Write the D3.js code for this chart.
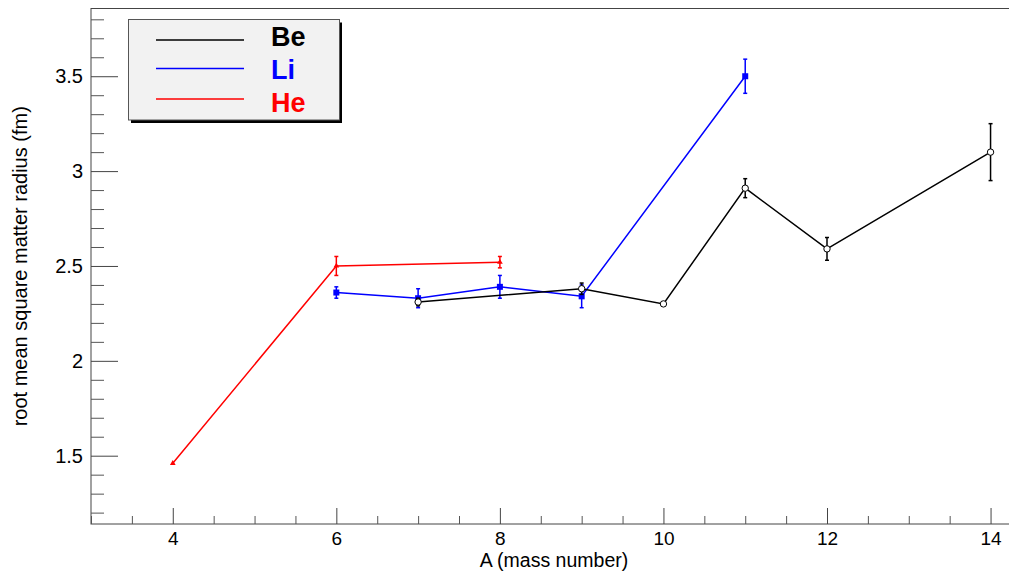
<!DOCTYPE html>
<html>
<head>
<meta charset="utf-8">
<script src="https://cdn.jsdelivr.net/npm/d3@7"></script>
<style>
  body { margin: 0; background: #fff; }
  svg { display: block; font-family: "Liberation Sans", Arial, Helvetica, sans-serif; }
</style>
</head>
<body>
<div id="chart"></div>
<script>
// data
const heA = [4, 6, 8];
const heR = [1.46, 2.50, 2.52];
const heErr = [0, 0.05, 0.03];

const liA = [6, 7, 8, 9, 11];
const liR = [2.36, 2.33, 2.39, 2.34, 3.50];
const liErr = [0.03, 0.05, 0.06, 0.06, 0.09];

const beA = [7, 9, 10, 11, 12, 14];
const beR = [2.31, 2.38, 2.30, 2.91, 2.59, 3.10];
const beErr = [0.02, 0.03, 0.01, 0.05, 0.06, 0.15];

const xMajor = [4, 6, 8, 10, 12, 14];
const yMajor = [1.5, 2, 2.5, 3, 3.5];

const width = 1009, height = 571;
const frame = { left: 91, right: 1011, top: 8.5, bottom: 524 };

const svg = d3.select("#chart").append("svg")
  .attr("width", width)
  .attr("height", height);

const x = d3.scaleLinear().domain([3, 14.25]).range([frame.left, frame.right]);
const y = d3.scaleLinear().domain([1.14, 3.857]).range([frame.bottom, frame.top]);

// frame
svg.append("rect")
  .attr("x", frame.left).attr("y", frame.top)
  .attr("width", frame.right - frame.left).attr("height", frame.bottom - frame.top)
  .attr("fill", "none").attr("stroke", "#444").attr("stroke-width", 1);

// minor ticks (inward, ROOT style)
const xMinor = d3.range(3, 14.01, 0.5).filter(v => xMajor.indexOf(v) < 0);
const yMinor = d3.range(1.2, 3.85, 0.1).map(v => +v.toFixed(1)).filter(v => yMajor.indexOf(v) < 0);

svg.append("g")
  .attr("transform", `translate(0,${frame.bottom})`)
  .call(d3.axisBottom(x).tickValues(xMinor).tickSize(-8).tickFormat(""))
  .call(g => g.select(".domain").remove())
  .selectAll("line").attr("stroke", "#555");

svg.append("g")
  .attr("transform", `translate(${frame.left},0)`)
  .call(d3.axisLeft(y).tickValues(yMinor).tickSize(-13).tickFormat(""))
  .call(g => g.select(".domain").remove())
  .selectAll("line").attr("stroke", "#555");

// major ticks + labels
const xAxis = svg.append("g")
  .attr("transform", `translate(0,${frame.bottom})`)
  .call(d3.axisBottom(x).tickValues(xMajor).tickSize(-16).tickPadding(8).tickFormat(d3.format("d")));
xAxis.select(".domain").remove();
xAxis.selectAll("line").attr("stroke", "#444");
xAxis.selectAll("text").attr("font-size", 19).attr("fill", "#000")
  .attr("font-family", "Liberation Sans, Arial, sans-serif");

const yAxis = svg.append("g")
  .attr("transform", `translate(${frame.left},0)`)
  .call(d3.axisLeft(y).tickValues(yMajor).tickSize(-27).tickPadding(8).tickFormat(d => String(d)));
yAxis.select(".domain").remove();
yAxis.selectAll("line").attr("stroke", "#444");
yAxis.selectAll("text").attr("font-size", 20).attr("fill", "#000")
  .attr("font-family", "Liberation Sans, Arial, sans-serif");

// axis titles
svg.append("text")
  .attr("x", 554).attr("y", 567)
  .attr("text-anchor", "middle")
  .attr("font-size", 19.5)
  .text("A (mass number)");

svg.append("text")
  .attr("transform", `translate(27,${(frame.top + frame.bottom) / 2}) rotate(-90)`)
  .attr("text-anchor", "middle")
  .attr("font-size", 20)
  .text("root mean square matter radius (fm)");

// series
const series = [
  { name: "Li", color: "#0000ff", A: liA, R: liR, err: liErr, marker: "square" },
  { name: "Be", color: "#000000", A: beA, R: beR, err: beErr, marker: "circle" },
  { name: "He", color: "#ff0000", A: heA, R: heR, err: heErr, marker: "triangle" }
];

const line = d3.line().x(d => x(d.a)).y(d => y(d.r));

series.forEach(s => {
  const pts = s.A.map((a, i) => ({ a: a, r: s.R[i], e: s.err[i] }));
  const g = svg.append("g");

  g.append("path")
    .datum(pts)
    .attr("d", line)
    .attr("fill", "none")
    .attr("stroke", s.color)
    .attr("stroke-width", 1.5);

  // error bars
  const eb = g.selectAll(".err").data(pts.filter(d => d.e > 0)).enter().append("g");
  eb.append("line")
    .attr("x1", d => x(d.a)).attr("x2", d => x(d.a))
    .attr("y1", d => y(d.r - d.e)).attr("y2", d => y(d.r + d.e))
    .attr("stroke", s.color).attr("stroke-width", 1.5);
  eb.append("line")
    .attr("x1", d => x(d.a) - 2).attr("x2", d => x(d.a) + 2)
    .attr("y1", d => y(d.r - d.e)).attr("y2", d => y(d.r - d.e))
    .attr("stroke", s.color).attr("stroke-width", 1.5);
  eb.append("line")
    .attr("x1", d => x(d.a) - 2).attr("x2", d => x(d.a) + 2)
    .attr("y1", d => y(d.r + d.e)).attr("y2", d => y(d.r + d.e))
    .attr("stroke", s.color).attr("stroke-width", 1.5);

  // markers
  if (s.marker === "circle") {
    g.selectAll(".mk").data(pts).enter().append("circle")
      .attr("cx", d => x(d.a)).attr("cy", d => y(d.r)).attr("r", 3.2)
      .attr("fill", "#fff").attr("stroke", s.color).attr("stroke-width", 1);
  } else if (s.marker === "square") {
    g.selectAll(".mk").data(pts).enter().append("rect")
      .attr("x", d => x(d.a) - 3).attr("y", d => y(d.r) - 3)
      .attr("width", 6).attr("height", 6)
      .attr("fill", s.color);
  } else {
    g.selectAll(".mk").data(pts).enter().append("path")
      .attr("d", d3.symbol(d3.symbolTriangle, 14))
      .attr("transform", d => `translate(${x(d.a)},${y(d.r)})`)
      .attr("fill", s.color);
  }
});

// legend
const legend = svg.append("g");
legend.append("rect")
  .attr("x", 131).attr("y", 22.5).attr("width", 211).attr("height", 100.5)
  .attr("fill", "#000");
legend.append("rect")
  .attr("x", 128.5).attr("y", 19.5).attr("width", 211).attr("height", 100.5)
  .attr("fill", "#f2f2f2").attr("stroke", "#555").attr("stroke-width", 1);

const legendItems = [
  { name: "Be", color: "#000000" },
  { name: "Li", color: "#0000ff" },
  { name: "He", color: "#ff0000" }
];
const legendLineY = [40, 68.5, 99];
const legendTextY = [46, 79, 112];

legendItems.forEach((d, i) => {
  legend.append("line")
    .attr("x1", 156).attr("x2", 244)
    .attr("y1", legendLineY[i]).attr("y2", legendLineY[i])
    .attr("stroke", d.color).attr("stroke-width", 1.5);
  legend.append("text")
    .attr("x", 271).attr("y", legendTextY[i])
    .attr("font-size", 27).attr("font-weight", "bold")
    .attr("fill", d.color)
    .text(d.name);
});
</script>
</body>
</html>
